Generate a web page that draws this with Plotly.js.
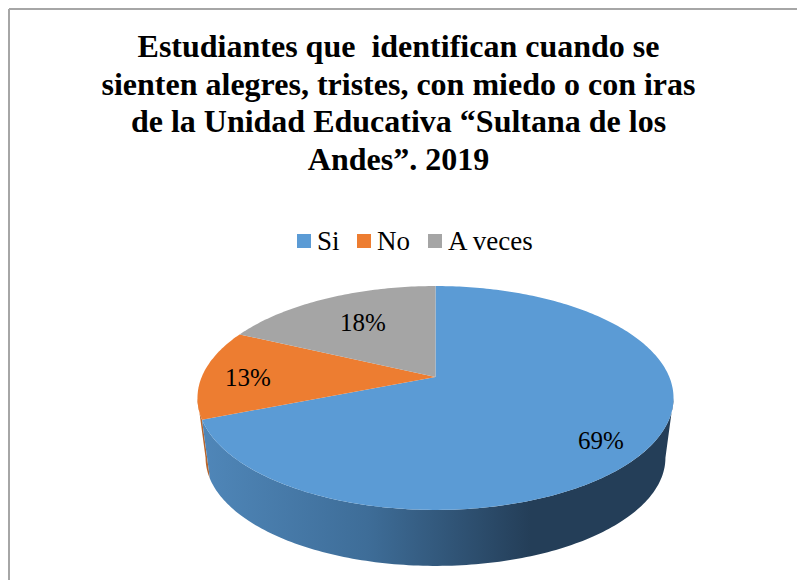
<!DOCTYPE html>
<html>
<head>
<meta charset="utf-8">
<script src="https://cdn.plot.ly/plotly-3.0.1.min.js"></script>
<style>html,body{margin:0;padding:0;background:#fff;overflow:hidden}</style>
</head>
<body>
<div id="chart" style="width:797px;height:580px"></div>
<script>
// ---- data ----
const categories = ["Si", "No", "A veces"];
const values = [69, 13, 18];
const sliceColors = ["#5b9bd5", "#ed7d31", "#a5a5a5"];
const titleLines = [
  "Estudiantes que  identifican cuando se",
  "sienten alegres, tristes, con miedo o con iras",
  "de la Unidad Educativa “Sultana de los",
  "Andes”. 2019"
];

// ---- view of the tilted disc (axes run in page pixels) ----
const view = {cx: 435.5, cy: 377, R: 233.8, H: 108, k: 0.1875, wallScale: 0.966, wallCy: 437.5};
const labelAt = [[600.7, 440], [248, 377], [362.7, 322]];
const swatchCentre = [[304, 241], [364, 241], [435, 241]];
const swatchToText = 13, legendTextLift = 2;
const titleBaseline = 57, titleLeading = 37.7, titleSize = 32;
const serif = '"Liberation Serif", "Times New Roman", serif';

function project(turn, radius, scale, cy) {
  const t = turn * 2 * Math.PI;
  const u = radius * Math.sin(t), v = radius * Math.cos(t);
  const w = 1 + view.k * v;
  return [view.cx + scale * view.R * u / w, cy - scale * view.H * v / w];
}
function rim(a, b, scale, cy) {
  const n = Math.max(2, Math.ceil(Math.abs(b - a) * 360));
  const pts = [];
  for (let i = 0; i <= n; i++) pts.push(project(a + (b - a) * i / n, 1, scale, cy));
  return pts;
}
const total = values.reduce((s, v) => s + v, 0);
const edges = [0];
values.forEach(v => edges.push(edges[edges.length - 1] + v / total));

// silhouette of the disc, where the wall starts and stops being visible
const turnRight = Math.atan2(Math.sqrt(1 - view.k * view.k), -view.k) / (2 * Math.PI);
const turnLeft = 1 - turnRight;

function wallTrace(a, b, fill) {
  const top = rim(a, b, 1, view.cy);
  const bot = rim(b, a, view.wallScale, view.wallCy);
  const pts = top.concat(bot);
  return Object.assign({
    type: "scatter", mode: "none", fill: "toself", hoverinfo: "skip", showlegend: false,
    x: pts.map(p => p[0]), y: pts.map(p => p[1])
  }, fill);
}

const traces = [];
traces.push(wallTrace(edges[1], turnLeft, {fillcolor: "#b8642a"}));
traces.push(wallTrace(turnRight, edges[1], {
  fillgradient: {
    type: "horizontal", start: 205, stop: 670,
    colorscale: [[0, "#4f86b8"], [0.35, "#3e6d98"], [0.7, "#243e58"], [1, "#243e58"]]
  }
}));
categories.forEach((name, i) => {
  const pts = [[view.cx, view.cy]].concat(rim(edges[i], edges[i + 1], 1, view.cy));
  traces.push({
    type: "scatter", mode: "none", fill: "toself", fillcolor: sliceColors[i],
    name: name, showlegend: false, hoverinfo: "name",
    x: pts.map(p => p[0]), y: pts.map(p => p[1])
  });
});
categories.forEach((name, i) => {
  traces.push({
    type: "scatter", mode: "markers", name: name, x: [null], y: [null],
    marker: {symbol: "square", size: 14, color: sliceColors[i]}
  });
});

const layout = {
  width: 797, height: 580, autosize: false,
  margin: {l: 0, r: 0, t: 0, b: 0},
  paper_bgcolor: "#ffffff", plot_bgcolor: "rgba(0,0,0,0)",
  xaxis: {range: [0, 797], visible: false, fixedrange: true},
  yaxis: {range: [580, 0], visible: false, fixedrange: true},
  title: {
    text: titleLines.join("<br>"),
    font: {family: serif, size: titleSize, color: "#000000", weight: "bold"},
    x: 0.5, xanchor: "center", y: 0.94, yanchor: "top", automargin: false
  },
  legend: {
    orientation: "h", x: 0.52, xanchor: "center", y: 0.585, yanchor: "middle",
    font: {family: serif, size: 27, color: "#000000"},
    itemwidth: 30, bgcolor: "rgba(0,0,0,0)"
  },
  annotations: values.map((v, i) => ({
    x: labelAt[i][0], y: labelAt[i][1], xref: "x", yref: "y",
    text: v + "%", showarrow: false, xanchor: "center", yanchor: "middle",
    font: {family: serif, size: 25, color: "#000000"}
  })),
  shapes: [
    {type: "line", xref: "paper", yref: "paper", x0: 0.0113, x1: 1, y0: 0.9845, y1: 0.9845, line: {color: "#a6a6a6", width: 2}},
    {type: "line", xref: "paper", yref: "paper", x0: 0.0113, x1: 0.0113, y0: 0, y1: 0.9845, line: {color: "#a6a6a6", width: 2}}
  ]
};
Plotly.newPlot("chart", traces, layout, {displayModeBar: false, staticPlot: true}).then(gd => {
  // tighter leading for the title, as in the reference
  const title = gd.querySelector(".gtitle");
  title.setAttribute("y", titleBaseline);
  title.querySelectorAll("tspan.line").forEach((line, i) => {
    line.setAttribute("y", titleBaseline);
    line.setAttribute("dy", (i * titleLeading) + "px");
  });
  // closer legend items, with the text nearer its swatch
  const legendClip = gd.querySelector(".legend .scrollbox");
  if (legendClip) legendClip.removeAttribute("clip-path");
  gd.querySelectorAll(".legend .traces").forEach((item, i) => {
    const swatch = item.querySelector(".legendpoints path").getBoundingClientRect();
    const dx = swatchCentre[i][0] - (swatch.left + swatch.width / 2);
    const dy = swatchCentre[i][1] - (swatch.top + swatch.height / 2);
    const m = /translate\(([-\d.]+),\s*([-\d.]+)\)/.exec(item.getAttribute("transform")) || [0, 0, 0];
    item.setAttribute("transform", `translate(${+m[1] + dx},${+m[2] + dy})`);
    const text = item.querySelector(".legendtext");
    const p = item.querySelector(".legendpoints path").getBoundingClientRect();
    const t = text.getBoundingClientRect();
    const x = +text.getAttribute("x") + (p.left + p.width / 2 + swatchToText - t.left);
    text.setAttribute("x", x);
    text.setAttribute("y", +(text.getAttribute("y") || 0) - legendTextLift);
  });
});
</script>
</body>
</html>
